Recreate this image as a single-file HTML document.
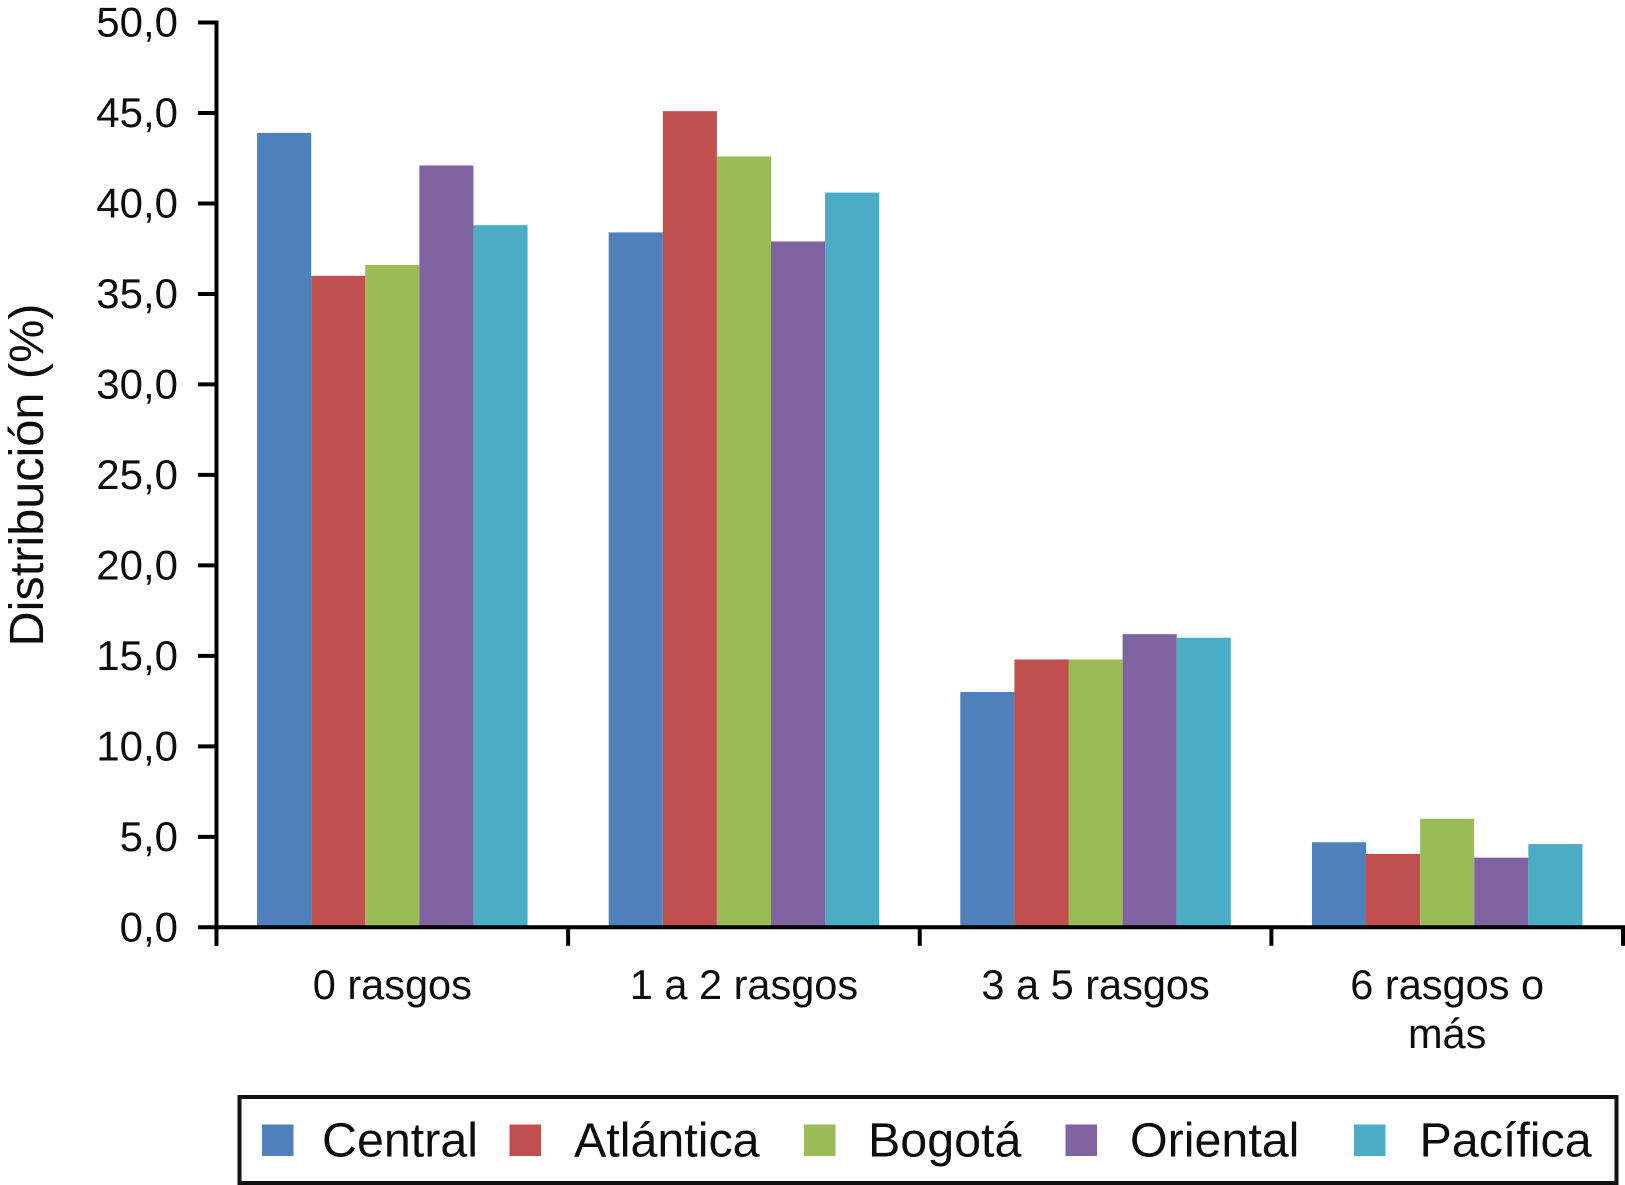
<!DOCTYPE html>
<html lang="es">
<head>
<meta charset="utf-8">
<title>Distribución por rasgos</title>
<style>
html,body{margin:0;padding:0;background:#fff;width:1625px;height:1185px;overflow:hidden}
svg{display:block}
text{font-family:"Liberation Sans",Arial,sans-serif;fill:#0d0d0d}
</style>
</head>
<body>
<svg id="chart" xmlns="http://www.w3.org/2000/svg" width="1625" height="1185" viewBox="0 0 1625 1185">
<rect x="0" y="0" width="1625" height="1185" fill="#fff"/>
<g id="bars"></g>
<g id="axes"></g>
<text id="ytitle" font-size="48.6" text-anchor="middle" transform="translate(43,475) rotate(-90)">Distribución (%)</text>
<rect x="239.5" y="1097" width="1377" height="86" fill="#fff" stroke="#111" stroke-width="4"/>
<g id="legend"></g>
</svg>
<script>
const categories = [["0 rasgos"], ["1 a 2 rasgos"], ["3 a 5 rasgos"], ["6 rasgos o", "más"]];
const seriesNames = ["Central", "Atlántica", "Bogotá", "Oriental", "Pacífica"];
const central = [43.9, 38.4, 13.0, 4.7];
const atlantica = [36.0, 45.1, 14.8, 4.05];
const bogota = [36.6, 42.6, 14.8, 6.0];
const oriental = [42.1, 37.9, 16.2, 3.85];
const pacifica = [38.8, 40.6, 16.0, 4.6];
const yTicks = [0, 5, 10, 15, 20, 25, 30, 35, 40, 45, 50];
const seriesColors = ["#4F81BD", "#C0504D", "#9BBB59", "#8064A2", "#4BACC6"];

const allSeries = [central, atlantica, bogota, oriental, pacifica];
const NS = "http://www.w3.org/2000/svg";
const plot = {left: 216.5, right: 1623, top: 22.5, bottom: 927.3, yMax: 50};
const groupW = (plot.right - plot.left) / categories.length;
const barW = 54.1;
const yScale = v => plot.bottom - (v / plot.yMax) * (plot.bottom - plot.top);
const groupX = i => plot.left + groupW * i;
const barX = (g, s) => groupX(g) + groupW / 2 - barW * allSeries.length / 2 + barW * s;

function mk(parent, tag, attrs, txt) {
  const el = document.createElementNS(NS, tag);
  for (const k in attrs) el.setAttribute(k, attrs[k]);
  if (txt !== undefined) el.textContent = txt;
  parent.appendChild(el);
  return el;
}
const barsG = document.getElementById("bars");
const axesG = document.getElementById("axes");
const legendG = document.getElementById("legend");

allSeries.forEach((vals, s) => {
  vals.forEach((v, g) => {
    const r = mk(barsG, "rect", {x: barX(g, s), y: yScale(v), width: barW, height: plot.bottom - yScale(v), fill: seriesColors[s]});
    
    
  });
});

const axStyle = {stroke: "#000", "stroke-width": 4};
const yAxis = mk(axesG, "line", Object.assign({x1: plot.left, x2: plot.left, y1: plot.top - 2, y2: plot.bottom + 18.5}, axStyle));


const xAxis = mk(axesG, "line", Object.assign({x1: plot.left, x2: plot.right + 2, y1: plot.bottom, y2: plot.bottom}, axStyle));



yTicks.forEach(t => {
  const y = yScale(t);
  const tick = mk(axesG, "line", Object.assign({x1: 198, x2: plot.left, y1: y, y2: y}, axStyle));
  
  
  const lab = mk(axesG, "text", {x: 178, y: y + 14, "font-size": 42, "text-anchor": "end"}, t.toFixed(1).replace(".", ","));
  
  
});

for (let i = 0; i <= categories.length; i++) {
  const x = groupX(i);
  const tick = mk(axesG, "line", Object.assign({x1: x, x2: x, y1: plot.bottom, y2: plot.bottom + 18.5}, axStyle));
  
  
}
categories.forEach((lines, i) => {
  lines.forEach((ln, j) => {
    const lab = mk(axesG, "text", {x: groupX(i) + groupW / 2, y: 999 + j * 49, "font-size": 41.5, "text-anchor": "middle"}, ln);
    
    
  });
});

const swatchLeft = [262, 509.5, 804, 1065.5, 1354];
const labelLeft = [322, 574, 868, 1130, 1419.5];
seriesNames.forEach((n, i) => {
  const sw = mk(legendG, "rect", {x: swatchLeft[i], y: 1124.5, width: 31.5, height: 31.5, fill: seriesColors[i]});
  
  
  const lab = mk(legendG, "text", {x: labelLeft[i], y: 1156.5, "font-size": 48.4}, n);
  
  
});
</script>
</body>
</html>
